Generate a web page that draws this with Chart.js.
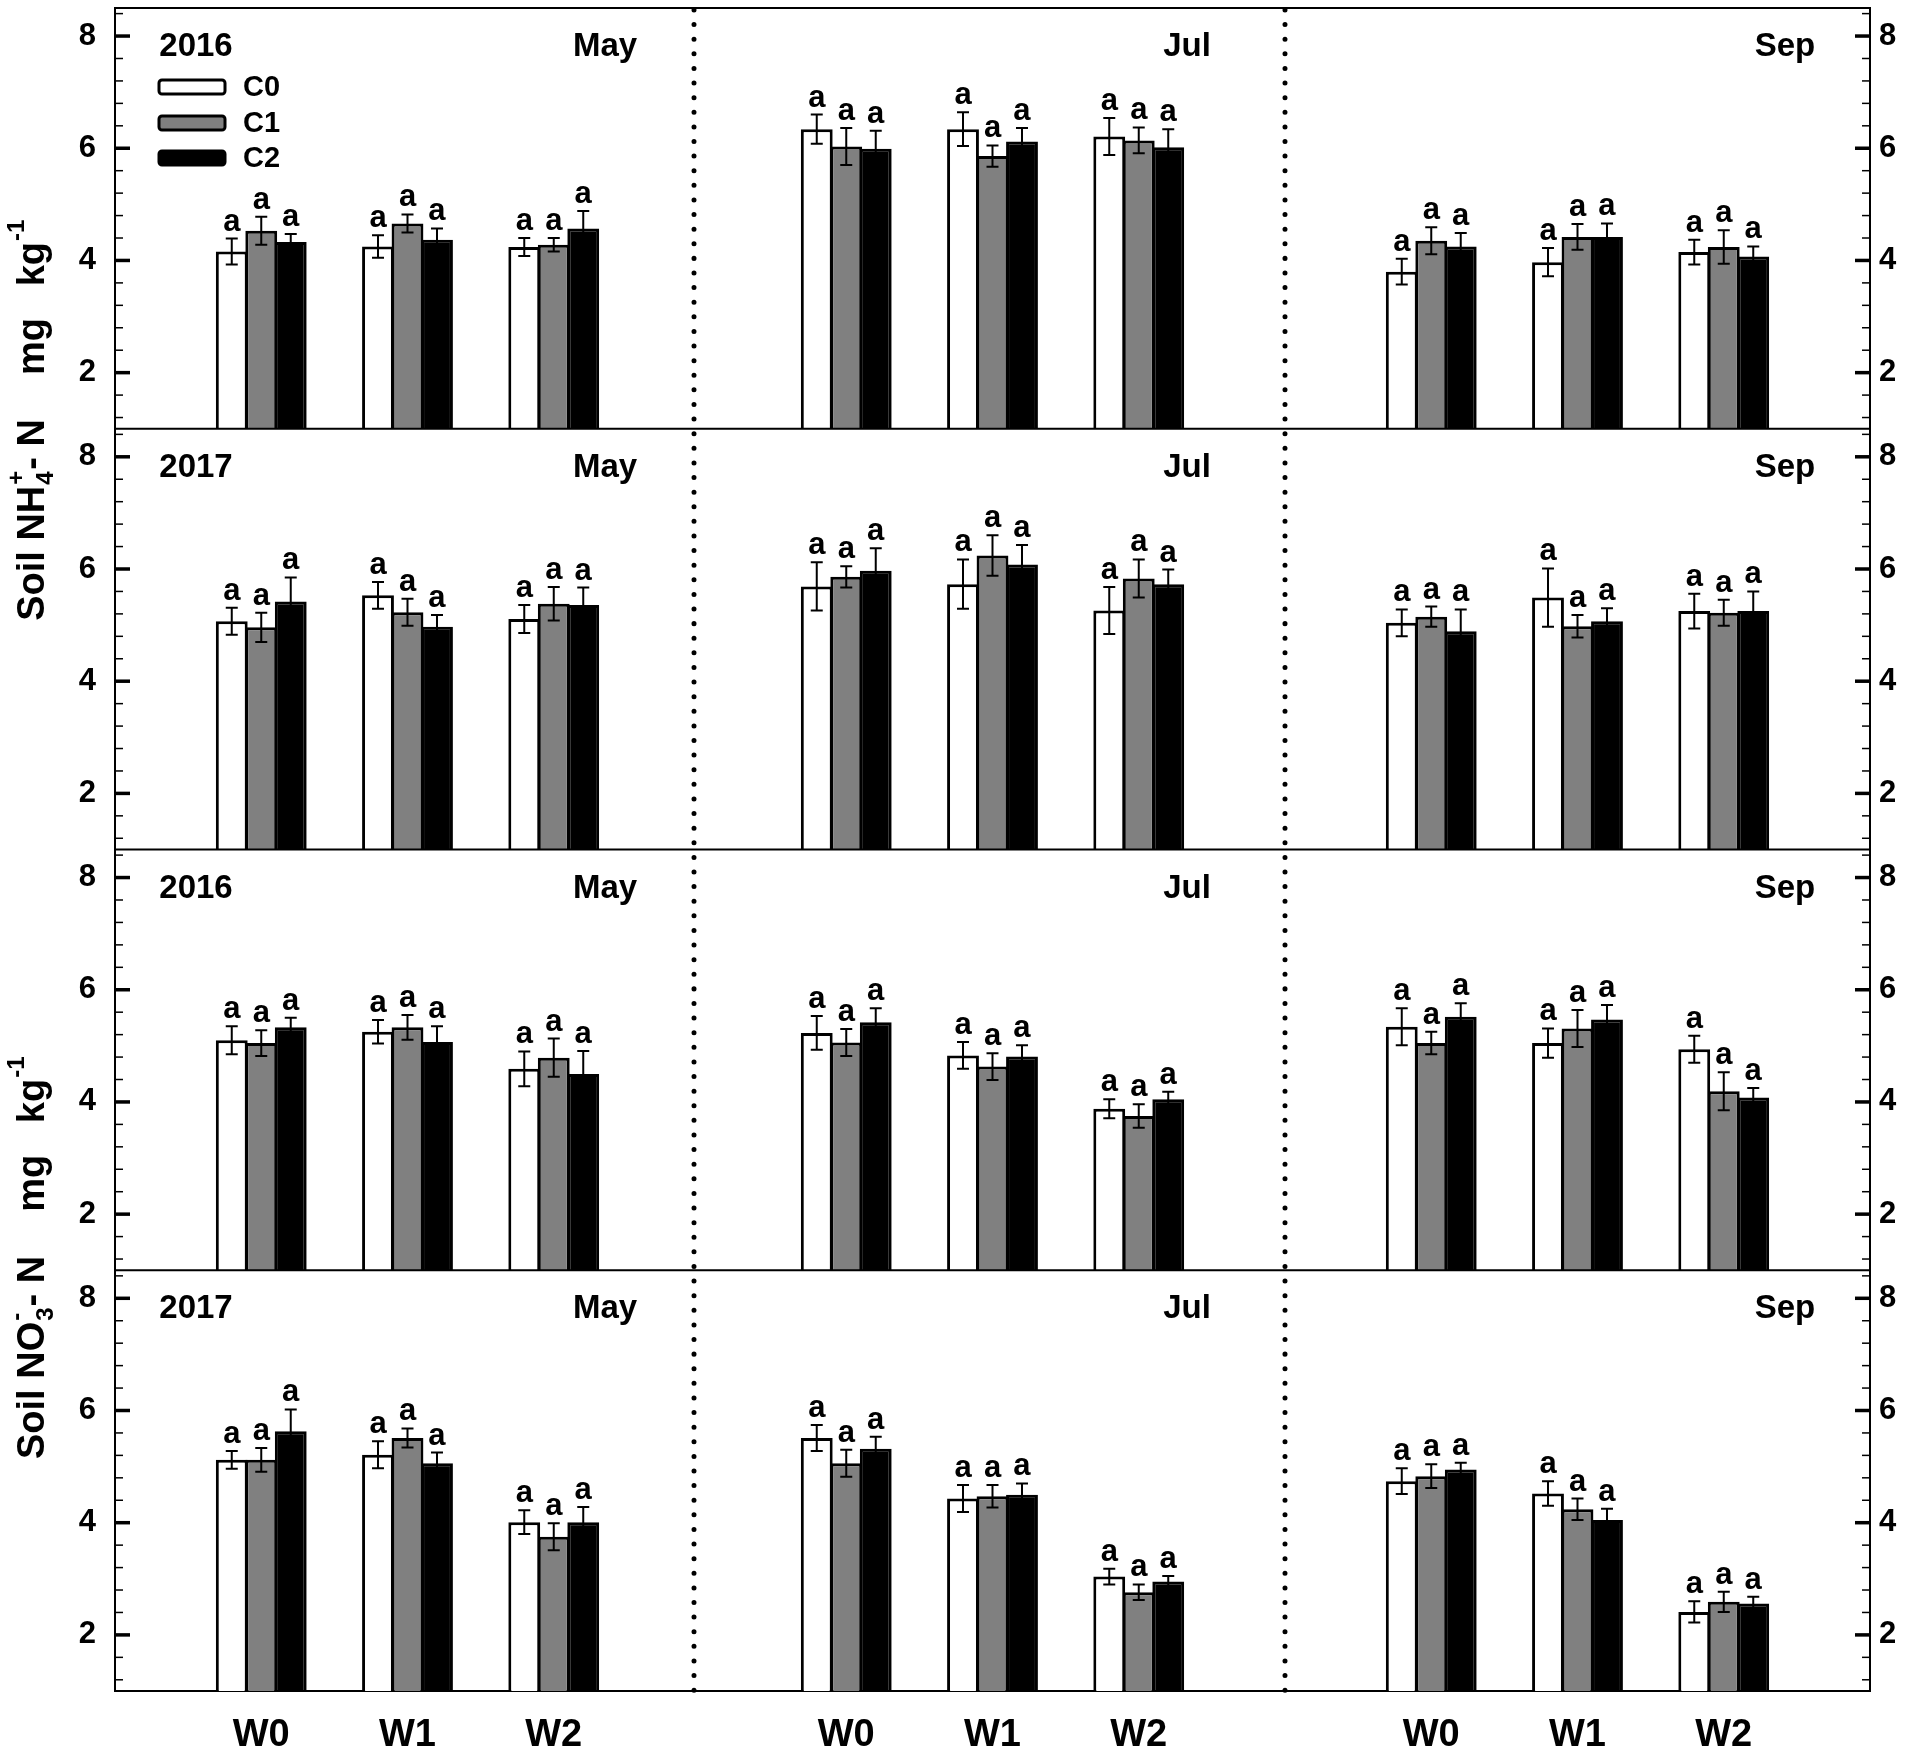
<!DOCTYPE html>
<html>
<head>
<meta charset="utf-8">
<script src="https://cdn.jsdelivr.net/npm/chart.js@4.4.1/dist/chart.umd.min.js"></script>
<style>
html,body{margin:0;padding:0;background:#fff;}
#wrap{position:relative;width:1908px;height:1754px;}
canvas{display:block;}
</style>
</head>
<body>
<div id="wrap"><canvas id="c" width="1908" height="1754"></canvas></div>
<script>
// ---------- data ----------
const categories = ['W0', 'W1', 'W2'];
const seriesNames = ['C0', 'C1', 'C2'];
const seriesColors = ['#ffffff', '#808080', '#000000'];
const months = ['May', 'Jul', 'Sep'];
const rowYears = ['2016', '2017', '2016', '2017'];
const yTickValues = [2, 4, 6, 8];
const letter = 'a';

// values: [C0[W0,W1,W2], C1[...], C2[...]] ; errors same shape
const NH4_2016_May = [[4.16, 4.25, 4.24], [4.53, 4.66, 4.28], [4.33, 4.37, 4.57]];
const NH4_2016_May_err = [[0.23, 0.20, 0.16], [0.25, 0.16, 0.12], [0.14, 0.20, 0.31]];
const NH4_2016_Jul = [[6.34, 6.34, 6.21], [6.03, 5.86, 6.14], [5.99, 6.12, 6.02]];
const NH4_2016_Jul_err = [[0.26, 0.30, 0.33], [0.33, 0.19, 0.23], [0.32, 0.24, 0.32]];
const NH4_2016_Sep = [[3.80, 3.97, 4.15], [4.35, 4.42, 4.24], [4.25, 4.42, 4.07]];
const NH4_2016_Sep_err = [[0.23, 0.25, 0.22], [0.24, 0.23, 0.30], [0.24, 0.24, 0.18]];

const NH4_2017_May = [[5.07, 5.53, 5.11], [4.96, 5.23, 5.38], [5.42, 4.97, 5.36]];
const NH4_2017_May_err = [[0.24, 0.24, 0.25], [0.26, 0.24, 0.30], [0.43, 0.21, 0.31]];
const NH4_2017_Jul = [[5.69, 5.73, 5.26], [5.86, 6.24, 5.83], [5.97, 6.08, 5.73]];
const NH4_2017_Jul_err = [[0.43, 0.44, 0.42], [0.19, 0.36, 0.34], [0.40, 0.35, 0.26]];
const NH4_2017_Sep = [[5.04, 5.49, 5.25], [5.15, 4.98, 5.22], [4.89, 5.07, 5.25]];
const NH4_2017_Sep_err = [[0.24, 0.52, 0.31], [0.18, 0.20, 0.23], [0.39, 0.23, 0.35]];

const NO3_2016_May = [[5.10, 5.25, 4.59], [5.05, 5.33, 4.79], [5.33, 5.07, 4.50]];
const NO3_2016_May_err = [[0.25, 0.21, 0.31], [0.23, 0.22, 0.34], [0.17, 0.28, 0.41]];
const NO3_2016_Jul = [[5.23, 4.83, 3.88], [5.06, 4.63, 3.75], [5.42, 4.81, 4.05]];
const NO3_2016_Jul_err = [[0.30, 0.24, 0.17], [0.24, 0.24, 0.21], [0.25, 0.20, 0.13]];
const NO3_2016_Sep = [[5.34, 5.05, 4.94], [5.05, 5.31, 4.19], [5.52, 5.47, 4.08]];
const NO3_2016_Sep_err = [[0.33, 0.26, 0.24], [0.20, 0.33, 0.34], [0.24, 0.26, 0.17]];

const NO3_2017_May = [[5.12, 5.21, 4.01], [5.12, 5.51, 3.75], [5.63, 5.06, 4.01]];
const NO3_2017_May_err = [[0.16, 0.24, 0.21], [0.21, 0.17, 0.24], [0.39, 0.19, 0.27]];
const NO3_2017_Jul = [[5.51, 4.43, 3.04], [5.06, 4.47, 2.76], [5.32, 4.50, 2.95]];
const NO3_2017_Jul_err = [[0.23, 0.24, 0.14], [0.24, 0.20, 0.14], [0.21, 0.20, 0.10]];
const NO3_2017_Sep = [[4.74, 4.52, 2.41], [4.83, 4.24, 2.59], [4.95, 4.05, 2.56]];
const NO3_2017_Sep_err = [[0.23, 0.22, 0.19], [0.21, 0.19, 0.18], [0.12, 0.20, 0.12]];

const panelRows = [
  [[NH4_2016_May, NH4_2016_May_err], [NH4_2016_Jul, NH4_2016_Jul_err], [NH4_2016_Sep, NH4_2016_Sep_err]],
  [[NH4_2017_May, NH4_2017_May_err], [NH4_2017_Jul, NH4_2017_Jul_err], [NH4_2017_Sep, NH4_2017_Sep_err]],
  [[NO3_2016_May, NO3_2016_May_err], [NO3_2016_Jul, NO3_2016_Jul_err], [NO3_2016_Sep, NO3_2016_Sep_err]],
  [[NO3_2017_May, NO3_2017_May_err], [NO3_2017_Jul, NO3_2017_Jul_err], [NO3_2017_Sep, NO3_2017_Sep_err]]
];

// ---------- build chart ----------
const FONT = "'Liberation Sans', Arial, sans-serif";
// one category axis over the three month columns: blank slot | W0 W1 W2 | blank | ...
const xLabels = [''];
months.forEach(() => { categories.forEach(w => xLabels.push(w)); xLabels.push(''); });

const datasets = [];
panelRows.forEach((row, r) => {
  seriesNames.forEach((name, s) => {
    const data = [null], errors = [null];
    row.forEach(panel => {
      panel[0][s].forEach(v => data.push(v));
      panel[1][s].forEach(e => errors.push(e));
      data.push(null); errors.push(null);
    });
    datasets.push({
      label: name,
      data: data,
      errors: errors,
      xAxisID: 'x',
      yAxisID: 'y' + r,
      stack: name,
      backgroundColor: seriesColors[s],
      borderColor: '#000',
      borderWidth: 3,
      borderSkipped: 'start',
      categoryPercentage: 0.605,
      barPercentage: 1.08
    });
  });
});

const scales = {
  x: {
    type: 'category', position: 'bottom', offset: false,
    grid: { display: false, drawTicks: false },
    border: { display: true, color: '#000', width: 2 },
    ticks: { autoSkip: false, maxRotation: 0, minRotation: 0, padding: 22, color: '#000',
             font: { family: FONT, size: 38, weight: 'bold' } },
    afterFit: s => { s.height = 63; s.paddingLeft = 0; s.paddingRight = 0; }
  }
};
for (let r = 0; r < 4; r++) {
  scales['y' + r] = {
    type: 'linear', position: 'left', stack: 'rowsL', stackWeight: 1, weight: 4 - r,
    min: 1, max: 8.5, stacked: false,
    grid: { display: false, drawTicks: false },
    border: { display: true, color: '#000', width: 2 },
    ticks: { padding: 19, color: '#000', font: { family: FONT, size: 31, weight: 'bold' } },
    afterBuildTicks: s => { s.ticks = yTickValues.map(v => ({ value: v })); },
    afterFit: s => { s.width = 115; s.paddingTop = 0; s.paddingBottom = 0; }
  };
  scales['yr' + r] = {
    type: 'linear', position: 'right', stack: 'rowsR', stackWeight: 1, weight: r + 1,
    min: 1, max: 8.5,
    grid: { display: false, drawTicks: false },
    border: { display: true, color: '#000', width: 2 },
    ticks: { padding: 9, color: '#000', font: { family: FONT, size: 31, weight: 'bold' } },
    afterBuildTicks: s => { s.ticks = yTickValues.map(v => ({ value: v })); },
    afterFit: s => { s.width = 38; s.paddingTop = 0; s.paddingBottom = 0; }
  };
}

function richTitle(ctx, cx, cy, ion, sub, sup) {
  const big = 'bold 38px ' + FONT, small = 'bold 24px ' + FONT;
  ctx.save();
  ctx.translate(cx, cy);
  ctx.rotate(-Math.PI / 2);
  ctx.fillStyle = '#000';
  ctx.textBaseline = 'alphabetic';
  ctx.textAlign = 'left';
  const t1 = 'Soil ' + ion, t2 = '- N', t3 = 'mg   kg', t4 = '-1';
  ctx.font = big;
  const w1 = ctx.measureText(t1).width, w2 = ctx.measureText(t2).width, w3 = ctx.measureText(t3).width;
  ctx.font = small;
  const wsub = Math.max(ctx.measureText(sub).width, ctx.measureText(sup).width) + 2;
  const w4 = ctx.measureText(t4).width;
  const gap = 44;
  const total = w1 + wsub + w2 + gap + w3 + w4;
  let x = -total / 2;
  const base = 14;
  ctx.font = big; ctx.fillText(t1, x, base); x += w1;
  ctx.font = small; ctx.fillText(sub, x + 1, base + 9); ctx.fillText(sup, x + 1, base - 20); x += wsub;
  ctx.font = big; ctx.fillText(t2, x, base); x += w2 + gap;
  ctx.fillText(t3, x, base); x += w3;
  ctx.font = small; ctx.fillText(t4, x + 1, base - 20);
  ctx.restore();
}

const overlay = {
  id: 'overlay',
  afterDatasetsDraw(chart) {
    const ctx = chart.ctx;
    chart.data.datasets.forEach((ds, i) => {
      const meta = chart.getDatasetMeta(i);
      const ys = chart.scales[ds.yAxisID];
      meta.data.forEach((bar, j) => {
        const v = ds.data[j];
        if (v === null || v === undefined) return;
        const e = ds.errors[j];
        const x = bar.x;
        const yt = ys.getPixelForValue(v + e), yb = ys.getPixelForValue(v - e);
        ctx.save();
        ctx.strokeStyle = '#000';
        ctx.lineWidth = 2;
        ctx.beginPath();
        ctx.moveTo(x, yt); ctx.lineTo(x, yb);
        ctx.moveTo(x - 6, yt); ctx.lineTo(x + 6, yt);
        ctx.moveTo(x - 6, yb); ctx.lineTo(x + 6, yb);
        ctx.stroke();
        ctx.fillStyle = '#000';
        ctx.font = 'bold 31px ' + FONT;
        ctx.textAlign = 'center';
        ctx.textBaseline = 'alphabetic';
        ctx.fillText(letter, x, yt - 8);
        ctx.restore();
      });
    });
  },
  afterDraw(chart) {
    const ctx = chart.ctx;
    const a = chart.chartArea;
    const xs = chart.scales.x;
    const colEdges = [a.left, xs.getPixelForValue(4) - 6, xs.getPixelForValue(8), a.right];
    ctx.save();
    ctx.strokeStyle = '#000';
    // top frame line
    ctx.lineWidth = 2;
    ctx.beginPath(); ctx.moveTo(a.left - 1, a.top); ctx.lineTo(a.right + 1, a.top); ctx.stroke();
    // row separators
    for (let r = 0; r < 3; r++) {
      const yb = chart.scales['y' + r].bottom;
      ctx.beginPath(); ctx.moveTo(a.left, yb); ctx.lineTo(a.right, yb); ctx.stroke();
    }
    // dotted column separators
    ctx.lineWidth = 5; ctx.lineCap = 'round'; ctx.setLineDash([0.01, 14.6]);
    for (let c = 1; c < 3; c++) {
      ctx.beginPath(); ctx.moveTo(colEdges[c], a.top + 2); ctx.lineTo(colEdges[c], a.bottom); ctx.stroke();
    }
    ctx.setLineDash([]); ctx.lineCap = 'butt';
    // inward ticks on left and right axes
    for (let r = 0; r < 4; r++) {
      const sl = chart.scales['y' + r];
      for (let k = 3; k <= 21; k++) {
        const v = k * 0.4;
        const py = sl.getPixelForValue(v);
        const major = (k % 5 === 0);
        const len = major ? 15 : 8;
        ctx.lineWidth = major ? 3.5 : 1.5;
        ctx.beginPath(); ctx.moveTo(a.left, py); ctx.lineTo(a.left + len, py); ctx.stroke();
        ctx.beginPath(); ctx.moveTo(a.right, py); ctx.lineTo(a.right - len, py); ctx.stroke();
      }
    }
    // panel labels
    ctx.fillStyle = '#000';
    ctx.textBaseline = 'middle';
    ctx.font = 'bold 33px ' + FONT;
    const monthOffsets = [89, 98, 85];
    for (let r = 0; r < 4; r++) {
      const top = chart.scales['y' + r].top;
      ctx.textAlign = 'center';
      ctx.fillText(rowYears[r], colEdges[0] + 81, top + 39);
      for (let c = 0; c < 3; c++) {
        ctx.fillText(months[c], colEdges[c + 1] - monthOffsets[c], top + 39);
      }
    }
    // legend
    const legY = [87, 123, 158];
    ctx.lineWidth = 3;
    seriesNames.forEach((name, s) => {
      const x0 = 159, w = 66, h = 14, y0 = legY[s] - h / 2;
      ctx.beginPath();
      if (ctx.roundRect) ctx.roundRect(x0, y0, w, h, 3); else ctx.rect(x0, y0, w, h);
      ctx.fillStyle = seriesColors[s]; ctx.fill(); ctx.stroke();
      ctx.fillStyle = '#000';
      ctx.font = 'bold 29px ' + FONT;
      ctx.textAlign = 'left';
      ctx.fillText(name, 243, legY[s] + 1);
    });
    ctx.restore();
    // axis titles
    richTitle(ctx, 30, chart.scales.y0.bottom - 8, 'NH', '4', '+');
    richTitle(ctx, 30, chart.scales.y2.bottom - 12, 'NO', '3', '-');
  }
};

new Chart(document.getElementById('c'), {
  type: 'bar',
  data: { labels: xLabels, datasets: datasets },
  options: {
    responsive: false,
    animation: false,
    devicePixelRatio: 1,
    layout: { padding: { top: 8, left: 0, right: 0, bottom: 0 } },
    plugins: { legend: { display: false }, tooltip: { enabled: false } },
    scales: scales
  },
  plugins: [overlay]
});
</script>
</body>
</html>
